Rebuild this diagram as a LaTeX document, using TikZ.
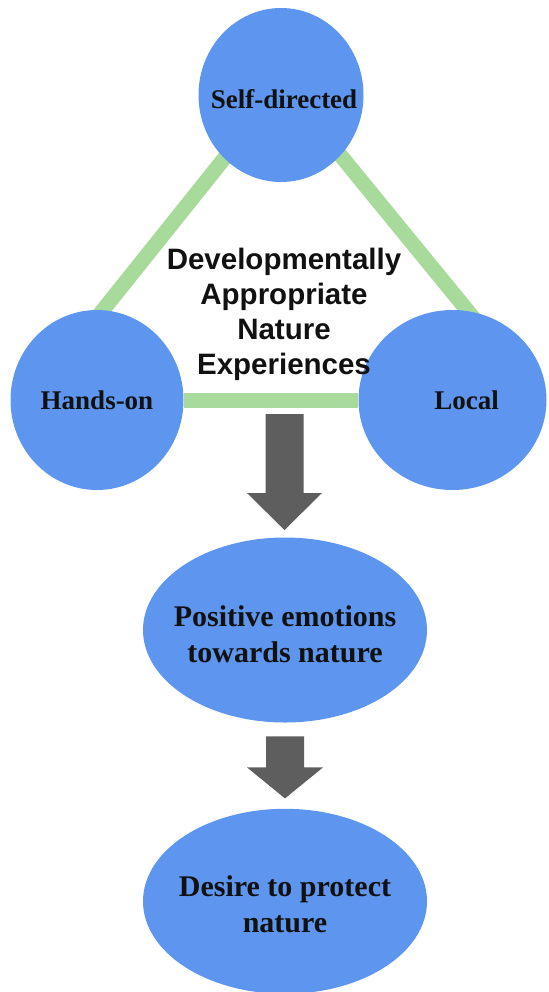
\documentclass[tikz,border=0pt]{standalone}
\usepackage{fontspec}
\setmainfont{Liberation Serif}
\newfontfamily\captionsans{Liberation Sans}
\usepackage{tikz}
\usetikzlibrary{shapes.geometric,positioning,backgrounds}
\definecolor{hubfill}{HTML}{5E95EE}
\definecolor{edgegreen}{HTML}{A8DA9C}
\definecolor{flowgray}{HTML}{5E5E5E}
\definecolor{ink}{HTML}{111111}

\begin{document}
\begin{tikzpicture}[
    x=0.5pt, y=-0.5pt,
    hub/.style={ellipse, fill=hubfill, inner sep=0pt},
    hubtext/.style={text=ink, font=\fontsize{13.5}{16}\selectfont\bfseries},
    outcome/.style={ellipse, fill=hubfill, inner sep=0pt,
                    minimum width=142pt, minimum height=92.5pt},
    outcometext/.style={text=ink, align=center,
                        font=\fontsize{15}{18}\selectfont\bfseries},
    side/.style={draw=edgegreen, line width=7.5pt},
    bigarrow/.style={fill=flowgray}
]
\useasboundingbox (0,0) rectangle (549,992);

% hubs
\node[hub, minimum width=82.5pt, minimum height=87pt,
      label={[hubtext, xshift=1.5pt, yshift=-2pt]center:Self-directed}] (self) at (281,95) {};
\node[hub, minimum width=86.5pt, minimum height=90pt,
      label={[hubtext]center:Hands-on}] (hands) at (97,400) {};
\node[hub, minimum width=94pt, minimum height=90pt,
      label={[hubtext, xshift=7pt]center:Local}] (local) at (452.5,400) {};

% triangle, kept behind the hubs
\coordinate (apex) at (283,85);
\coordinate (lfoot) at (31,400);
\coordinate (rfoot) at (534,392);
\begin{scope}[on background layer]
    \draw[side] (lfoot) -- (apex) -- (rfoot);
    \draw[side] (hands) -- (local);
\end{scope}

% caption inside the triangle
\node[text=ink, align=center, font=\captionsans\bfseries\fontsize{14.75}{17.5}\selectfont]
    (theme) at (284,314) {Developmentally\\Appropriate\\Nature\\Experiences};

% outcomes
\node[outcome, label={[outcometext, yshift=-2pt]center:{Positive emotions\\towards nature}}]
    (emo) at (285,630) {};
\node[outcome, below=42.75pt of emo,
      label={[outcometext, yshift=-1.5pt]center:{Desire to protect\\nature}}] (protect) {};

% block arrows
\coordinate (a1) at (284.5,414);
\fill[bigarrow] (a1) +(-19,0) -- +(19,0) -- +(19,79) -- +(37.5,79) -- +(0,116)
    -- +(-37.5,79) -- +(-19,79) -- cycle;
\coordinate (a2) at ([yshift=-6.75pt]emo.south);
\fill[bigarrow] (a2) +(-19,0) -- +(19,0) -- +(19,31) -- +(38,31) -- +(0,62)
    -- +(-38,31) -- +(-19,31) -- cycle;

\end{tikzpicture}
\end{document}
